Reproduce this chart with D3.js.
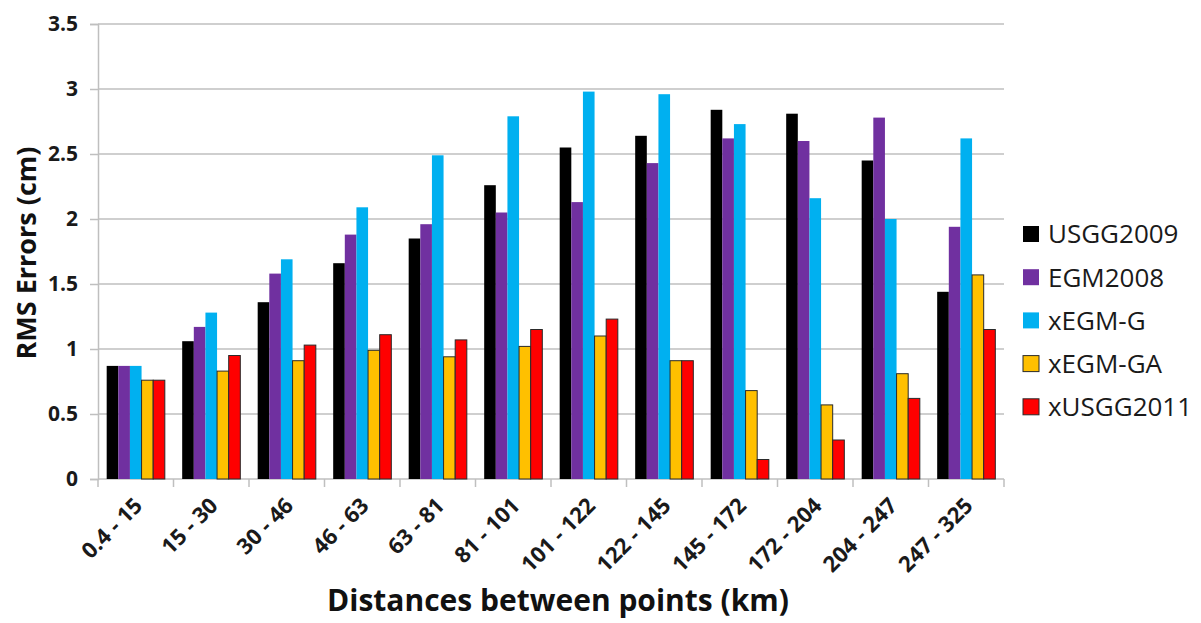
<!DOCTYPE html>
<html>
<head>
<meta charset="utf-8">
<script src="https://cdn.jsdelivr.net/npm/d3@7"></script>
<style>
  html, body { margin: 0; padding: 0; background: #fff; }
  svg { display: block; font-family: "Open Sans", "Liberation Sans", sans-serif; }
</style>
</head>
<body>
<svg id="chart" width="1201" height="623"></svg>
<script>
const categories = ["0.4 - 15", "15 - 30", "30 - 46", "46 - 63", "63 - 81", "81 - 101",
  "101 - 122", "122 - 145", "145 - 172", "172 - 204", "204 - 247", "247 - 325"];
const seriesNames = ["USGG2009", "EGM2008", "xEGM-G", "xEGM-GA", "xUSGG2011"];
const usgg2009  = [0.87, 1.06, 1.36, 1.66, 1.85, 2.26, 2.55, 2.64, 2.84, 2.81, 2.45, 1.44];
const egm2008   = [0.87, 1.17, 1.58, 1.88, 1.96, 2.05, 2.13, 2.43, 2.62, 2.60, 2.78, 1.94];
const xegmG     = [0.87, 1.28, 1.69, 2.09, 2.49, 2.79, 2.98, 2.96, 2.73, 2.16, 2.00, 2.62];
const xegmGA    = [0.76, 0.83, 0.91, 0.99, 0.94, 1.02, 1.10, 0.91, 0.68, 0.57, 0.81, 1.57];
const xusgg2011 = [0.76, 0.95, 1.03, 1.11, 1.07, 1.15, 1.23, 0.91, 0.15, 0.30, 0.62, 1.15];
const yTicks = [0, 0.5, 1, 1.5, 2, 2.5, 3, 3.5];
const colors = ["#000000", "#7030A0", "#00B0F0", "#FFC000", "#FF0000"];
const outlined = [false, false, false, true, true];

const seriesValues = [usgg2009, egm2008, xegmG, xegmGA, xusgg2011];

const svg = d3.select("#chart");
const mLeft = 98, mRight = 1004, mTop = 24, mBottom = 479;

const x = d3.scaleBand().domain(categories).range([mLeft, mRight]).paddingInner(0.23).paddingOuter(0.115);
const band = d3.scaleBand().domain(seriesNames).range([0, x.bandwidth()]);
const xCat = d3.scaleBand().domain(categories).range([mLeft, mRight]);
const y = d3.scaleLinear().domain([0, 3.5]).range([mBottom, mTop]);

// gridlines
svg.append("g").selectAll("line").data(yTicks.filter(d => d > 0)).join("line")
  .attr("x1", mLeft).attr("x2", mRight)
  .attr("y1", d => y(d)).attr("y2", d => y(d))
  .attr("stroke", "#BFBFBF").attr("stroke-width", 1.5);

// y axis
const yAxis = svg.append("g").attr("transform", `translate(${mLeft},0)`)
  .call(d3.axisLeft(y).tickValues(yTicks).tickSize(8).tickPadding(12).tickFormat(d3.format("")));
yAxis.select(".domain").attr("stroke", "#BFBFBF").attr("stroke-width", 1.5);
yAxis.selectAll(".tick line").attr("stroke", "#BFBFBF").attr("stroke-width", 1.5);
yAxis.selectAll(".tick text").attr("font-size", 21).attr("font-weight", "bold").attr("fill", "#1a1a1a")
  .attr("font-family", "'Open Sans', sans-serif");

// x axis line and boundary ticks
const bounds = categories.map(c => xCat(c)).concat([mRight]);
svg.append("line").attr("x1", mLeft).attr("x2", mRight).attr("y1", mBottom).attr("y2", mBottom)
  .attr("stroke", "#BFBFBF").attr("stroke-width", 1.5);
svg.append("g").selectAll("line").data(bounds).join("line")
  .attr("x1", d => d).attr("x2", d => d).attr("y1", mBottom).attr("y2", mBottom + 8)
  .attr("stroke", "#BFBFBF").attr("stroke-width", 1.5);

// bars
const groups = svg.append("g").selectAll("g").data(categories).join("g")
  .attr("transform", c => `translate(${x(c)},0)`);
groups.selectAll("rect").data((c, i) => seriesValues.map((s, k) => ({k, v: s[i]}))).join("rect")
  .attr("x", d => band(seriesNames[d.k]))
  .attr("width", band.bandwidth())
  .attr("y", d => y(d.v))
  .attr("height", d => y(0) - y(d.v))
  .attr("fill", d => colors[d.k])
  .attr("stroke", d => outlined[d.k] ? "#2a2a2a" : "none")
  .attr("stroke-width", 1);

// x labels
svg.append("g").selectAll("text").data(categories).join("text")
  .attr("transform", c => `translate(${xCat(c) + xCat.bandwidth() / 2 + 8},${mBottom + 28}) rotate(-45)`)
  .attr("text-anchor", "end")
  .attr("font-size", 22).attr("font-weight", "bold").attr("fill", "#1a1a1a")
  .text(c => c);

// axis titles
svg.append("text").attr("x", 558).attr("y", 611).attr("text-anchor", "middle")
  .attr("font-size", 30).attr("font-weight", "bold").attr("fill", "#111")
  .text("Distances between points (km)");
svg.append("text").attr("transform", "translate(36,253) rotate(-90)").attr("text-anchor", "middle")
  .attr("font-size", 27).attr("font-weight", "bold").attr("fill", "#111")
  .text("RMS Errors (cm)");

// legend
const legend = svg.append("g").selectAll("g").data(seriesNames).join("g")
  .attr("transform", (d, i) => `translate(1023,${234 + i * 43.2})`);
legend.append("rect").attr("x", 0).attr("y", -8).attr("width", 16).attr("height", 16)
  .attr("fill", (d, i) => colors[i])
  .attr("stroke", (d, i) => outlined[i] ? "#2a2a2a" : "none");
legend.append("text").attr("x", 25).attr("y", 0).attr("dy", "0.36em")
  .attr("font-size", 26).attr("fill", "#1a1a1a").text(d => d);
</script>
</body>
</html>
